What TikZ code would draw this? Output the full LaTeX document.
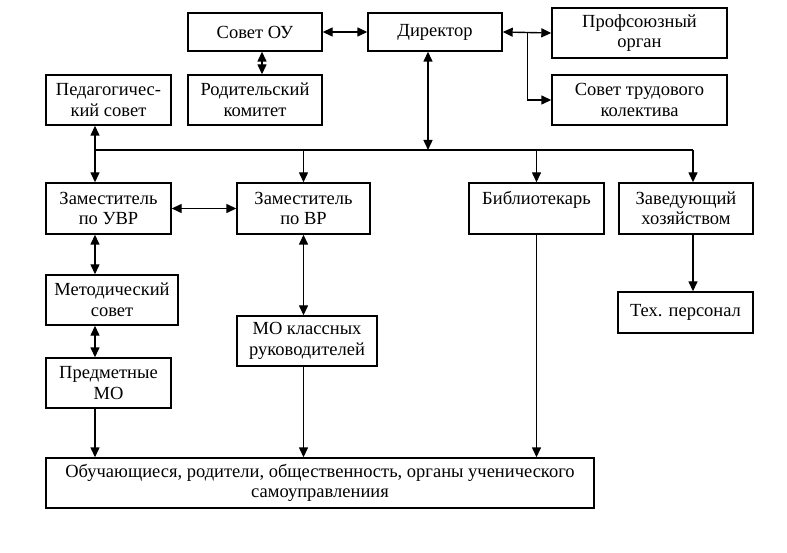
\documentclass[tikz,border=0pt]{standalone}
\usepackage{fontspec}
\setmainfont{Liberation Serif}
\usetikzlibrary{arrows.meta}
\begin{document}
\begin{tikzpicture}[x=1pt, y=-1pt,
        box/.style = {draw, line width=1.4pt, align=center, inner sep=0pt,
            font=\fontsize{18.5}{20.5}\selectfont},
        link/.style = {line width=1.4pt},
        arr/.style = {link, -{Triangle[length=10pt,width=9pt]}},
        both/.style = {link, {Triangle[length=10pt,width=9pt]}-{Triangle[length=10pt,width=9pt]}}
        ]
    \useasboundingbox (0,0) rectangle (787,553);
    \node[box, minimum width=134, minimum height=38] (sovet) at (255,32) {Совет ОУ};
    \node[box, minimum width=134, minimum height=38] (dir) at (435,32) {Директор};
    \node[box, minimum width=175, minimum height=50] (prof) at (639.5,33) {Профсоюзный\\орган};
    \node[box, minimum width=175, minimum height=50] (trud) at (639.5,100) {Совет трудового\\колектива};
    \node[box, minimum width=134, minimum height=50] (rod) at (255,100) {Родительский\\комитет};
    \node[box, minimum width=125, minimum height=50] (ped) at (108.5,100) {Педагогичес-\\кий совет};
    \node[box, minimum width=125, minimum height=51] (zuvr) at (108.5,208.5) {Заместитель\\по УВР};
    \node[box, minimum width=133, minimum height=51] (zvr) at (303.5,208.5) {Заместитель\\по ВР};
    \node[box, minimum width=135, minimum height=51] (bib) at (536.5,208.5) {Библиотекарь\\~};
    \node[box, minimum width=134, minimum height=51] (zav) at (686,208.5) {Заведующий\\хозяйством};
    \node[box, minimum width=132, minimum height=50] (met) at (112,300) {Методический\\совет};
    \node[box, minimum width=125, minimum height=50] (pred) at (108.5,383) {Предметные\\МО};
    \node[box, minimum width=140, minimum height=50] (mokl) at (307,341) {МО классных\\руководителей};
    \node[box, minimum width=135, minimum height=41] (teh) at (685.5,312.5) {Тех. персонал};
    \node[box, minimum width=548, minimum height=50] (obuch) at (320,483)
        {Обучающиеся, родители, общественность, органы ученического\\самоуправлениия};
    \coordinate (bus) at (428,150);
    \coordinate (lc) at (95,150);
    \coordinate (rc) at (693,150);
    \draw[link] (lc) -- (rc);
    \draw[both] (sovet.east) -- (dir.west);
    \draw[both] ([xshift=7pt]sovet.south) -- ([xshift=7pt]rod.north);
    \draw[both] (dir.east) -- (prof.west);
    \draw[arr] ([xshift=25pt]dir.east) |- (trud.west);
    \draw[both] ([xshift=-7pt]dir.south) -- (bus);
    \draw[both] (ped.south -| lc) -- (zuvr.north -| lc);
    \draw[both] (zuvr.east) -- (zvr.west);
    \draw[both] (zuvr.south -| lc) -- (met.north -| lc);
    \draw[both] (met.south -| lc) -- (pred.north -| lc);
    \draw[arr] (pred.south -| lc) -- (obuch.north -| lc);
    \draw[arr] (zvr.north |- bus) -- (zvr.north);
    \draw[both] (zvr.south) -- (zvr.south |- mokl.north);
    \draw[arr] (mokl.south -| zvr) -- (obuch.north -| zvr);
    \draw[arr] (bib.north |- bus) -- (bib.north);
    \draw[arr] (bib.south) -- (bib.south |- obuch.north);
    \draw[arr] (rc) -- (zav.north -| rc);
    \draw[arr] (zav.south -| rc) -- (teh.north -| rc);
\end{tikzpicture}
\end{document}
